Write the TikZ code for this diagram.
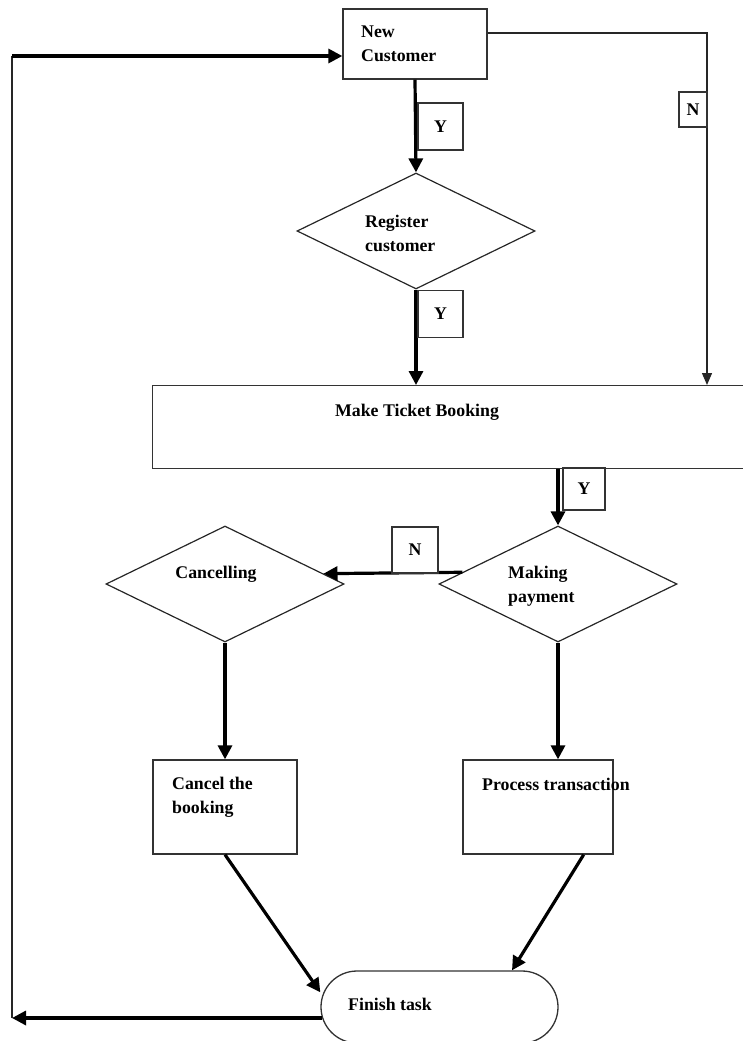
\documentclass[tikz,border=0pt]{standalone}
\usepackage{fontspec}
\setmainfont{Liberation Serif}
\usetikzlibrary{arrows.meta,shapes.geometric,calc}

\tikzset{
  box/.style={draw=black!80, line width=1.3pt, inner sep=0pt, fill=white},
  flag/.style={draw=black!80, line width=1.2pt, inner sep=0pt, fill=white},
  decision/.style={diamond, draw=black!85, line width=1.2pt, inner sep=0pt,
                   minimum width=238pt, minimum height=116pt},
  txt/.style={inner sep=0pt, font=\bfseries\fontsize{17.8}{24}\selectfont},
  flow/.style={line width=3.2pt, -{Triangle[length=14pt,width=14pt]}},
  thinflow/.style={line width=1.3pt, -{Triangle[length=12pt,width=10pt]}},
  link/.style={line width=1.3pt, draw=black!85},
}

\begin{document}
\begin{tikzpicture}[x=1pt,y=-1pt]
\useasboundingbox (0,0) rectangle (743,1041);
\clip (0,0) rectangle (743,1041);

% process steps
\node[box, minimum width=144pt, minimum height=70pt] (newc) at (415,44) {};
\node[txt, anchor=west, align=left] (newctxt) at (361,44) {New\\Customer};

\node[decision] (reg) at (416,231) {};
\node[txt, anchor=west, align=left] (regtxt) at (365,233) {Register\\customer};

\node[box, minimum width=600pt, minimum height=83pt, anchor=north west] (book) at (152,385) {};
\node[txt] (booktxt) at (417,412) {Make Ticket Booking};

\node[decision] (pay) at (558,584) {};
\node[txt, anchor=west, align=left] (paytxt) at (508,586) {Making\\payment};

\node[decision] (cancel) at (225,584) {};
\node[txt] (canceltxt) at (216,574) {Cancelling};

\node[box, minimum width=144pt, minimum height=94pt] (cbox) at (225,807) {};
\node[txt, anchor=west, align=left] (cboxtxt) at (172,797) {Cancel the\\booking};

\node[box, minimum width=150pt, minimum height=94pt] (pbox) at (538,807) {};
\node[txt, anchor=west] (pboxtxt) at (482,784) {Process transaction};

\node[box, rounded corners=36pt, minimum width=237pt, minimum height=72pt] (fin) at (439.5,1007) {};
\node[txt, anchor=west] (fintxt) at (348,1004) {Finish task};

% routing points
\coordinate (nturn) at (707,33);
\coordinate (lb) at (12,1018);
\coordinate (lt) at (12,56);

% connectors
\draw[flow] (newc.south) -- (reg.north);
\draw[flow] (reg.south) -- (reg.south |- book.north);
\draw[link, thinflow] (newc.east |- nturn) -- (nturn) -- (nturn |- book.north);
\draw[flow] (book.south -| pay.north) -- (pay.north);
\draw[flow] (pay.173.5) -- (cancel.6.5);
\draw[flow] (cancel.south) -- (cancel.south |- cbox.north);
\draw[flow] (pay.south) -- (pay.south |- pbox.north);
\draw[flow] (cbox.south) -- (fin.173);
\draw[flow] ($(pbox.south east)+(-30,0)$) -- ($(fin.north)+(72.5,0)$);
\draw[flow] ($(fin.west)+(1.5,11)$) -- (lb);
\draw[link] (lb) -- (lt);
\draw[flow] (lt) -- (newc.west |- lt);

% branch labels
\node[flag, minimum width=45pt, minimum height=47pt] (y1) at (440.5,126.5) {};
\node[txt] (y1t) at (y1) {Y};
\node[flag, minimum width=45pt, minimum height=47pt] (y2) at (440.5,314) {};
\node[txt] (y2t) at (y2) {Y};
\node[flag, minimum width=42pt, minimum height=42pt] (y3) at (584,489) {};
\node[txt] (y3t) at (y3) {Y};
\node[flag, minimum width=28pt, minimum height=35pt] (n1) at (693,109.5) {};
\node[txt] (n1t) at (n1) {N};
\node[flag, minimum width=46pt, minimum height=46pt] (n2) at (415,550) {};
\node[txt] (n2t) at (n2) {N};
\end{tikzpicture}
\end{document}
